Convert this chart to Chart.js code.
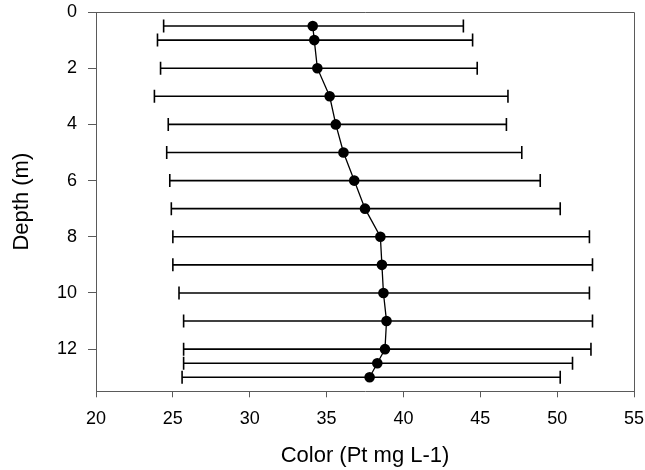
<!DOCTYPE html>
<html>
<head>
<meta charset="utf-8">
<script src="https://cdn.jsdelivr.net/npm/chart.js@4"></script>
<style>
html,body{margin:0;padding:0;background:#fff;}
#wrap{width:645px;height:470px;position:relative;}
</style>
</head>
<body>
<div id="wrap"><canvas id="c"></canvas></div>
<script>
// Data
const depth = [0.5, 1, 2, 3, 4, 5, 6, 7, 8, 9, 10, 11, 12, 12.5, 13];
const colorMean = [34.1, 34.2, 34.4, 35.2, 35.6, 36.1, 36.8, 37.5, 38.5, 38.6, 38.7, 38.9, 38.8, 38.3, 37.8];
const colorLow = [24.4, 24.0, 24.2, 23.8, 24.7, 24.6, 24.8, 24.9, 25.0, 25.0, 25.4, 25.7, 25.7, 25.7, 25.6];
const colorHigh = [43.9, 44.5, 44.8, 46.8, 46.7, 47.7, 48.9, 50.2, 52.1, 52.3, 52.1, 52.3, 52.2, 51.0, 50.2];
const xTicks = [20, 25, 30, 35, 40, 45, 50, 55];
const yTicks = [0, 2, 4, 6, 8, 10, 12];
const xTitle = 'Color (Pt mg L-1)';
const yTitle = 'Depth (m)';

const axisColor = '#5a5a5a';
const fontFamily = '"Liberation Sans", Arial, sans-serif';

const datasets = [{
  label: 'mean',
  data: depth.map((d, i) => ({x: colorMean[i], y: d})),
  showLine: true,
  borderColor: '#000',
  borderWidth: 1.3,
  pointRadius: 5.3,
  pointBackgroundColor: '#000',
  pointBorderColor: '#000',
  pointBorderWidth: 0
}];
depth.forEach((d, i) => {
  datasets.push({
    label: 'err' + i,
    data: [{x: colorLow[i], y: d}, {x: colorHigh[i], y: d}],
    showLine: true,
    borderColor: '#000',
    borderWidth: 1.6,
    pointStyle: 'line',
    rotation: 90,
    pointRadius: 6.5,
    pointBorderColor: '#000',
    pointBorderWidth: 1.6
  });
});

const framePlugin = {
  id: 'frame',
  afterDraw(chart) {
    const {ctx, chartArea: a} = chart;
    ctx.save();
    ctx.strokeStyle = axisColor;
    ctx.lineWidth = 1;
    ctx.beginPath();
    ctx.moveTo(a.left, a.top + 0.5);
    ctx.lineTo(a.right + 0.5, a.top + 0.5);
    ctx.lineTo(a.right + 0.5, a.bottom);
    ctx.stroke();
    ctx.restore();
  }
};

new Chart(document.getElementById('c'), {
  type: 'scatter',
  data: {datasets},
  plugins: [framePlugin],
  options: {
    responsive: true,
    maintainAspectRatio: false,
    animation: false,
    events: [],
    layout: {padding: {top: 12, right: 11, left: 0, bottom: 0}},
    plugins: {legend: {display: false}, tooltip: {enabled: false}},
    scales: {
      x: {
        type: 'linear',
        min: xTicks[0],
        max: xTicks[xTicks.length - 1],
        afterBuildTicks(s) { s.ticks = xTicks.map(v => ({value: v})); },
        afterFit(s) { s.height = 78.7; s.paddingLeft = 0; s.paddingRight = 0; },
        border: {display: true, color: axisColor, width: 1},
        grid: {drawOnChartArea: false, drawTicks: true, tickLength: 6, color: axisColor},
        ticks: {color: '#000', padding: 11, font: {family: fontFamily, size: 18}, maxRotation: 0},
        title: {display: true, text: xTitle, color: '#000', font: {family: fontFamily, size: 22}, padding: {top: 0, bottom: 1}}
      },
      y: {
        type: 'linear',
        reverse: true,
        min: 0,
        max: 13.5,
        afterBuildTicks(s) { s.ticks = yTicks.map(v => ({value: v})); },
        afterFit(s) { s.width = 96; s.paddingTop = 0; s.paddingBottom = 0; },
        border: {display: true, color: axisColor, width: 1},
        grid: {drawOnChartArea: false, drawTicks: true, tickLength: 8, color: axisColor},
        ticks: {color: '#000', padding: 11, font: {family: fontFamily, size: 18}},
        title: {display: true, text: yTitle, color: '#000', font: {family: fontFamily, size: 22}, padding: {top: 9, bottom: 0}}
      }
    }
  }
});
</script>
</body>
</html>
